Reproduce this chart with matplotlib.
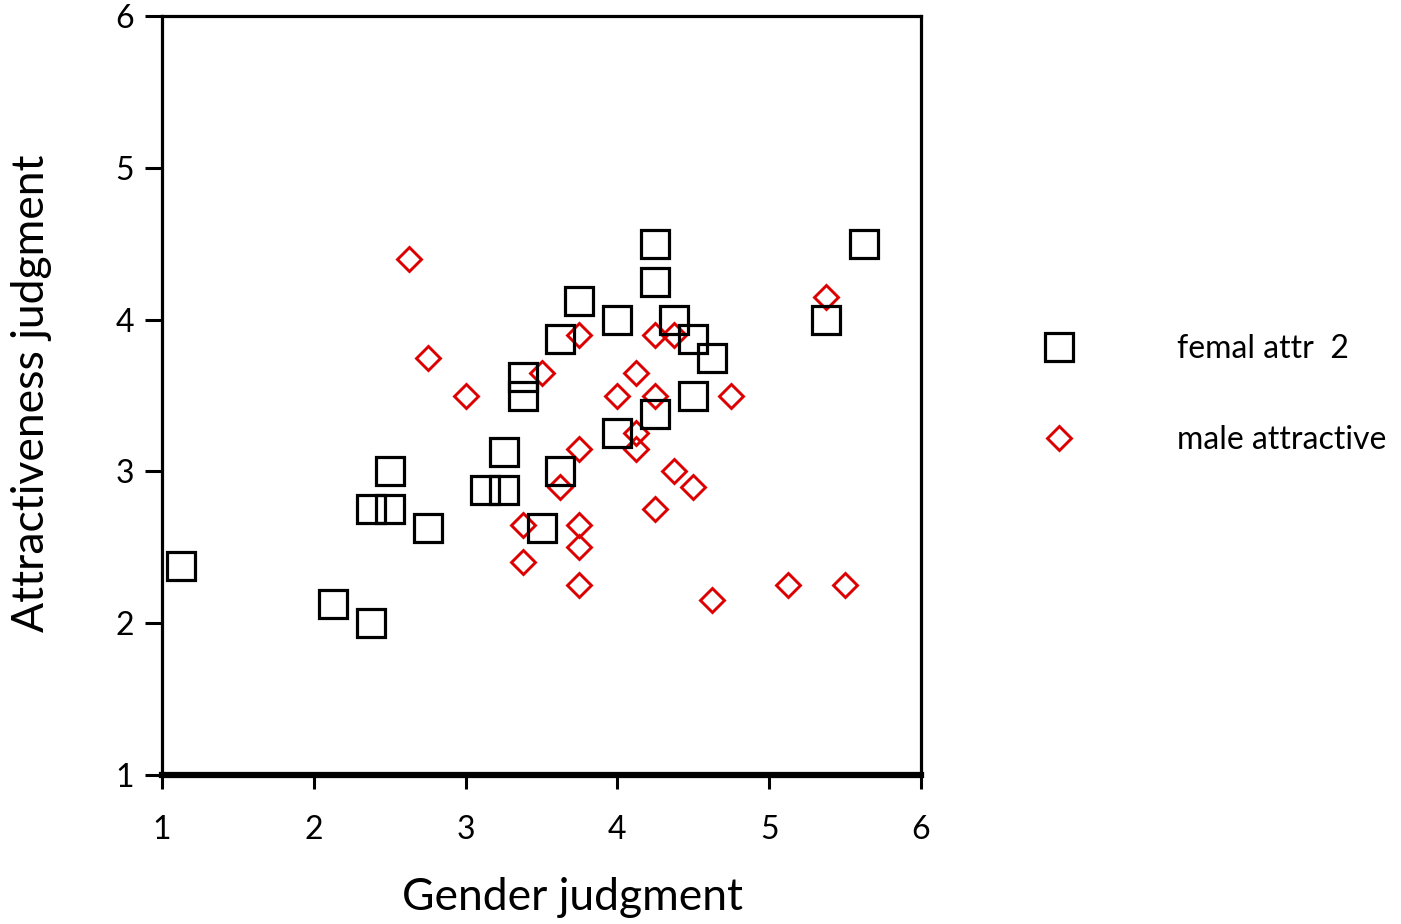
import matplotlib
matplotlib.use("Agg")
import matplotlib.pyplot as plt

plt.rcParams['font.family'] = ['Lato', 'DejaVu Sans']

# femal attr 2 (black squares)
fem_x = [1.125, 2.125, 2.375, 2.375, 2.5, 2.5, 2.75, 3.125, 3.25, 3.25,
         3.375, 3.375, 3.5, 3.625, 3.625, 3.75, 4.0, 4.0, 4.25, 4.25,
         4.25, 4.375, 4.5, 4.5, 4.625, 5.375, 5.625]
fem_y = [2.375, 2.125, 2.0, 2.75, 2.75, 3.0, 2.625, 2.875, 2.875, 3.125,
         3.625, 3.5, 2.625, 3.875, 3.0, 4.125, 4.0, 3.25, 4.5, 4.25,
         3.375, 4.0, 3.875, 3.5, 3.75, 4.0, 4.5]

# male attractive (red diamonds)
male_x = [2.625, 2.75, 3.0, 3.375, 3.375, 3.5, 3.625, 3.75, 3.75, 3.75,
          3.75, 3.75, 4.0, 4.125, 4.125, 4.125, 4.25, 4.375, 4.25, 4.375,
          4.5, 4.25, 4.75, 4.625, 5.125, 5.5, 5.375]
male_y = [4.4, 3.75, 3.5, 2.65, 2.4, 3.65, 2.9, 3.9, 3.15, 2.65,
          2.5, 2.25, 3.5, 3.65, 3.25, 3.15, 3.9, 3.9, 3.5, 3.0,
          2.9, 2.75, 3.5, 2.15, 2.25, 2.25, 4.15]

ticks = [1, 2, 3, 4, 5, 6]
red = '#dd0000'

fig = plt.figure(figsize=(14.01, 9.24), dpi=100)
ax = fig.add_axes([162 / 1401, 1 - 775 / 924, 759 / 1401, 759 / 924])

ax.plot(male_x, male_y, linestyle='none', marker='D', markersize=12,
        markerfacecolor='none', markeredgecolor=red, markeredgewidth=2.1,
        label='male attractive', zorder=3)
ax.plot(fem_x, fem_y, linestyle='none', marker='s', markersize=19.5,
        markerfacecolor='none', markeredgecolor='black', markeredgewidth=2.3,
        label='femal attr  2', zorder=4)

ax.set_xlim(1, 6)
ax.set_ylim(1, 6)
ax.set_xticks(ticks)
ax.set_yticks(ticks)
ax.tick_params(axis='both', direction='out', width=2.2, labelsize=23)
ax.tick_params(axis='y', length=12, pad=8)
ax.tick_params(axis='x', length=10, pad=19)

for side in ['left', 'right', 'top']:
    ax.spines[side].set_linewidth(2.3)
ax.spines['bottom'].set_linewidth(4.5)

ax.set_xlabel('Gender judgment', fontsize=32)
ax.xaxis.set_label_coords((573 - 162) / 759, (775 - 897) / 759)
ax.xaxis.label.set_va('center')
ax.set_ylabel('Attractiveness judgment', fontsize=32)
ax.yaxis.set_label_coords((32 - 162) / 759, (775 - 393) / 759)
ax.yaxis.label.set_va('center')

handles, labels = ax.get_legend_handles_labels()
fig.legend(handles[::-1], labels[::-1], loc='upper left',
           bbox_to_anchor=(1043 / 1401, 1 - 334 / 924), frameon=False,
           fontsize=23, handlelength=1.0, handletextpad=3.2,
           labelspacing=1.9, borderpad=0, borderaxespad=0)

fig.savefig('out.png', dpi=100)
